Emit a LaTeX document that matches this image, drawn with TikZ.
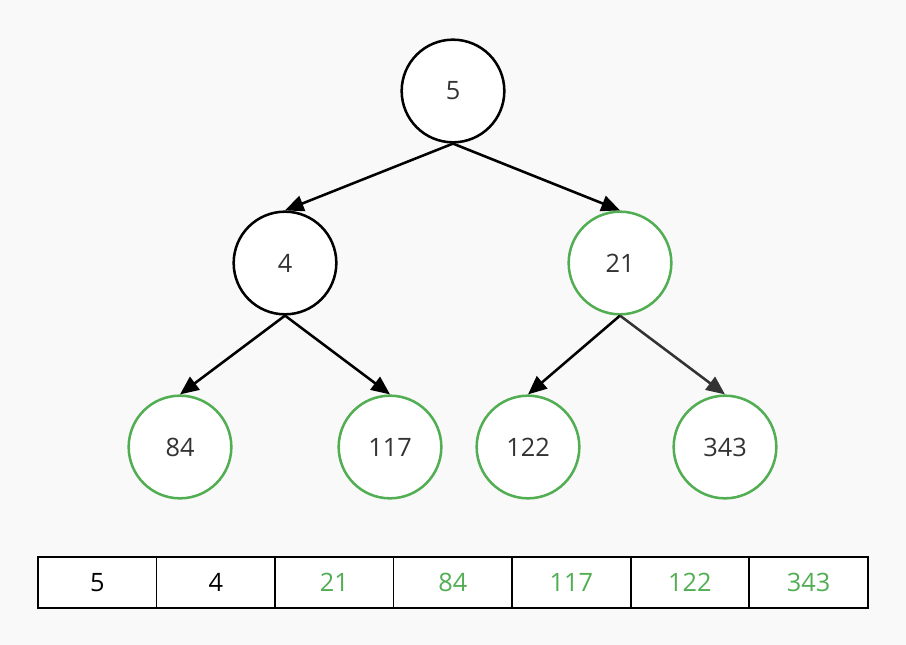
\documentclass[tikz,border=0pt]{standalone}
\usepackage{fontspec}
\setmainfont{Open Sans}
\definecolor{mygreen}{HTML}{52AE52}
\definecolor{mygray}{HTML}{333333}
\definecolor{mybg}{HTML}{F9F9F9}
\usetikzlibrary{arrows.meta, positioning}
\tikzset{
	heapnode/.style={
			draw=black, line width=1.9pt, fill=white, circle,
			minimum size=77pt, inner sep=0pt,
			font=\fontsize{19}{21}\selectfont, text=mygray
		}
}
\tikzset{
	greennode/.style={heapnode, draw=mygreen}
}
\tikzset{
	cell/.style={draw=black, line width=1.2pt, fill=white, rectangle,
			minimum width=88.9pt, minimum height=38pt, inner sep=0pt, outer sep=0pt,
			font=\fontsize{19}{21}\selectfont}
}
\tikzset{
	downarrow/.style={line width=1.9pt, -{Triangle[length=14pt, width=12pt]}}
}

\begin{document}
\begin{tikzpicture}[x=0.75pt, y=-0.75pt]

			\fill[mybg] (0,0) rectangle (906,645);
			\useasboundingbox (0,0) rectangle (906,645);

			\begin{scope}
				\coordinate (mA) at (453,91);
				\coordinate (mB) at (285,263);
				\coordinate (mC) at (620,263);
				\coordinate (mD) at (180,447);
				\coordinate (mE) at (390,447);
				\coordinate (mF) at (528,447);
				\coordinate (mG) at (725,447);

				\node[heapnode] (n5) at (mA) {5};
				\node[heapnode] (n4) at (mB) {4};
				\node[greennode] (n21) at (mC) {21};
				\node[greennode] (n84) at (mD) {84};
				\node[greennode] (n117) at (mE) {117};
				\node[greennode] (n122) at (mF) {122};
				\node[greennode] (n343) at (mG) {343};
			\end{scope}

			\begin{scope}
				\draw[downarrow] (n5.south) -- (n4.north);
				\draw[downarrow] (n5.south) -- (n21.north);
				\draw[downarrow] (n4.south) -- (n84.north);
				\draw[downarrow] (n4.south) -- (n117.north);
				\draw[downarrow] (n21.south) -- (n122.north);
				\draw[downarrow, mygray] (n21.south) -- (n343.north);
			\end{scope}

			\begin{scope}
				\node[cell] (c1) at (97.3,582.5) {5};
				\node[cell, right=0pt of c1] (c2) {4};
				\node[cell, right=0pt of c2, text=mygreen] (c3) {21};
				\node[cell, right=0pt of c3, text=mygreen] (c4) {84};
				\node[cell, right=0pt of c4, text=mygreen] (c5) {117};
				\node[cell, right=0pt of c5, text=mygreen] (c6) {122};
				\node[cell, right=0pt of c6, text=mygreen] (c7) {343};
			\end{scope}

		\end{tikzpicture}
\end{document}
